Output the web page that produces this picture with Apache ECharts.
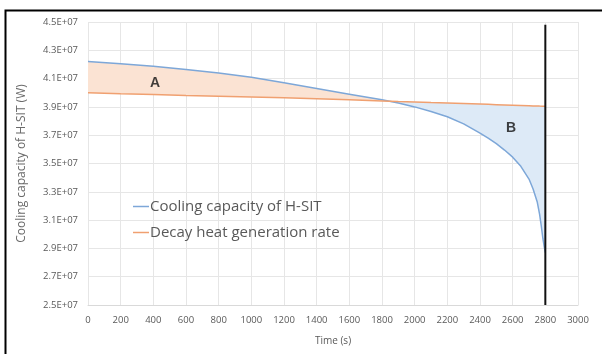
<!DOCTYPE html>
<html><head><meta charset="utf-8">
<script src="https://cdn.jsdelivr.net/npm/echarts@6/dist/echarts.min.js"></script>
<style>html,body{margin:0;padding:0;background:#fff}#c{width:602px;height:354px}</style>
</head><body><div id="c"></div>
<script>
var times   = [0, 200, 400, 600, 800, 1000, 1200, 1400, 1600, 1800, 1900, 2000, 2100, 2200, 2300, 2400, 2450, 2500, 2550, 2600, 2650, 2700, 2725, 2750, 2765, 2775, 2785, 2795, 2800];
var cooling = [4.22e7, 4.205e7, 4.188e7, 4.165e7, 4.14e7, 4.11e7, 4.07e7, 4.03e7, 3.99e7, 3.95e7, 3.927e7, 3.90e7, 3.867e7, 3.83e7, 3.78e7, 3.715e7, 3.68e7, 3.64e7, 3.595e7, 3.545e7, 3.48e7, 3.39e7, 3.32e7, 3.23e7, 3.14e7, 3.06e7, 2.97e7, 2.90e7, 2.87e7];
var decay   = [4.00e7, 3.993e7, 3.987e7, 3.98e7, 3.975e7, 3.97e7, 3.965e7, 3.958e7, 3.95e7, 3.942e7, 3.938e7, 3.935e7, 3.931e7, 3.928e7, 3.924e7, 3.92e7, 3.918e7, 3.916e7, 3.914e7, 3.912e7, 3.91e7, 3.908e7, 3.907e7, 3.907e7, 3.906e7, 3.906e7, 3.905e7, 3.905e7, 3.905e7];
var yTicks = [2.5e7, 2.7e7, 2.9e7, 3.1e7, 3.3e7, 3.5e7, 3.7e7, 3.9e7, 4.1e7, 4.3e7, 4.5e7];
var endLine = [[2800, 2.5e7], [2800, 4.48e7]];
var labels = [{name: 'A', value: [410, 4.07e7]}, {name: 'B', value: [2590, 3.75e7]}];

function crossing() {
  for (var i = 0; i < times.length - 1; i++) {
    var d0 = cooling[i] - decay[i], d1 = cooling[i+1] - decay[i+1];
    if (d0 >= 0 && d1 < 0) {
      var f = d0 / (d0 - d1);
      return {i: i, t: times[i] + f * (times[i+1] - times[i]), v: decay[i] + f * (decay[i+1] - decay[i])};
    }
  }
  return null;
}
var cr = crossing();
function regionA() {
  var top = [], bot = [];
  for (var i = 0; i <= cr.i; i++) { top.push([times[i], cooling[i]]); bot.push([times[i], decay[i]]); }
  top.push([cr.t, cr.v]);
  return top.concat(bot.reverse());
}
function regionB() {
  var top = [[cr.t, cr.v]], bot = [];
  for (var i = cr.i + 1; i < times.length; i++) { top.push([times[i], decay[i]]); bot.push([times[i], cooling[i]]); }
  return top.concat(bot.reverse());
}
var regions = [{pts: regionA(), color: '#FBE3D3'}, {pts: regionB(), color: '#DDEAF7'}];

var chart = echarts.init(document.getElementById('c'));
var fnt = 'Open Sans, DejaVu Sans, sans-serif';
chart.setOption({
  animation: false,
  backgroundColor: '#fff',
  graphic: [{type: 'rect', left: 3, top: 8, shape: {width: 700, height: 400}, style: {fill: 'none', stroke: '#000', lineWidth: 2}, z: 100}],
  grid: {left: 88, right: 24, top: 22, bottom: 49},
  legend: {
    left: 128, top: 194, orient: 'vertical', itemGap: 11,
    icon: 'rect', itemWidth: 16, itemHeight: 1.5,
    textStyle: {color: '#595959', fontSize: 15, fontFamily: fnt, padding: [0, 0, 0, -4]},
    data: ['Cooling capacity of H-SIT', 'Decay heat generation rate']
  },
  xAxis: {
    type: 'value', min: 0, max: 3000, interval: 200,
    name: 'Time (s)', nameLocation: 'middle', nameGap: 31,
    nameTextStyle: {color: '#595959', fontSize: 10, fontFamily: fnt},
    axisLine: {show: true, lineStyle: {color: '#D9D9D9'}},
    axisTick: {show: false},
    axisLabel: {color: '#595959', fontSize: 9.5, fontFamily: fnt, margin: 10,
      formatter: function (v) { return String(v); }},
    splitLine: {show: true, lineStyle: {color: '#E6E6E6'}}
  },
  yAxis: {
    type: 'value', min: 2.5e7, max: 4.5e7, interval: 0.2e7,
    name: 'Cooling capacity of H-SIT (W)', nameLocation: 'middle', nameGap: 60,
    nameTextStyle: {color: '#6a6a6a', fontSize: 12, fontFamily: fnt},
    axisLine: {show: false}, axisTick: {show: false},
    axisLabel: {color: '#595959', fontSize: 9.5, fontFamily: fnt, margin: 10,
      formatter: function (v) { return (v / 1e7).toFixed(1) + 'E+07'; }},
    splitLine: {show: true, lineStyle: {color: '#E6E6E6'}}
  },
  series: [
    {
      type: 'custom', silent: true, z: 1,
      data: regions.map(function (r, k) { return k; }),
      renderItem: function (params, api) {
        var r = regions[params.dataIndex];
        return {type: 'polygon', shape: {points: r.pts.map(function (p) { return api.coord(p); })},
                style: {fill: r.color, stroke: 'none'}};
      }
    },
    {
      name: 'Cooling capacity of H-SIT', type: 'line', showSymbol: false, z: 3,
      data: times.map(function (t, i) { return [t, cooling[i]]; }),
      lineStyle: {color: '#7DA7D8', width: 1.5}, itemStyle: {color: '#7DA7D8'}
    },
    {
      name: 'Decay heat generation rate', type: 'line', showSymbol: false, z: 3,
      data: times.map(function (t, i) { return [t, decay[i]]; }),
      lineStyle: {color: '#F0A070', width: 1.5}, itemStyle: {color: '#F0A070'}
    },
    {
      type: 'line', showSymbol: false, z: 4, silent: true,
      data: endLine, lineStyle: {color: '#111', width: 2}
    },
    {
      type: 'scatter', symbolSize: 0, z: 5, silent: true,
      data: labels,
      label: {show: true, position: 'inside', formatter: '{b}', color: '#111', fontSize: 14, fontWeight: 'bold', fontFamily: 'Liberation Sans, Arial, sans-serif'}
    }
  ]
});
</script></body></html>
